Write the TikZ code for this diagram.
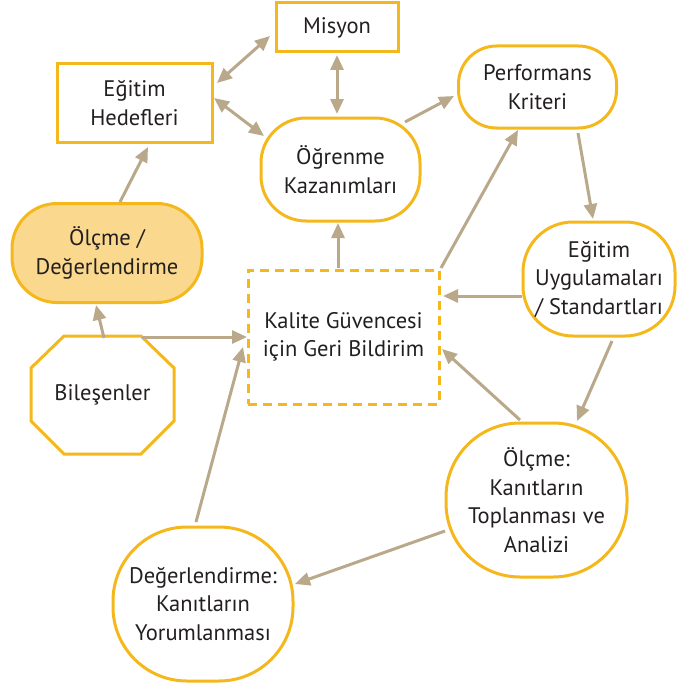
\documentclass[tikz,border=0pt]{standalone}
\usepackage{fontspec}
\setmainfont{PT Sans}
\usetikzlibrary{arrows.meta,calc}
\definecolor{gold}{HTML}{F5B81C}
\definecolor{lightgold}{HTML}{FAD98E}
\definecolor{tan}{HTML}{B9A98A}
\definecolor{ink}{HTML}{231F20}
\tikzset{
  box/.style={draw=gold,line width=3pt,inner sep=0pt,align=center,text=ink,
    font=\fontsize{22.5}{28.5}\selectfont},
  roundbox/.style={box,rounded corners=#1},
  arr/.style={draw=tan,line width=3pt,-{Triangle[length=15pt,width=13pt]}},
  darr/.style={draw=tan,line width=3pt,{Triangle[length=15pt,width=13pt]}-{Triangle[length=15pt,width=13pt]}},
}
\newcommand{\off}[3]{([shift={(#2,#3)}]#1.center)}
\begin{document}
\begin{tikzpicture}[x=1pt,y=-1pt]
\useasboundingbox (0,0) rectangle (677,685);
% nodes
\node[box,minimum width=122pt,minimum height=49pt] (mis) at (337,27.5) {Misyon};
\node[box,minimum width=155pt,minimum height=78pt] (edh) at (134.5,103) {Eğitim\\Hedefleri};
\node[roundbox=45pt,minimum width=159pt,minimum height=103pt] (ogr) at (340.5,169.5) {Öğrenme\\Kazanımları};
\node[roundbox=38pt,minimum width=158pt,minimum height=82pt] (per) at (537.5,87) {Performans\\Kriteri};
\node[roundbox=50pt,minimum width=152pt,minimum height=114pt] (euy) at (599,279) {Eğitim\\Uygulamaları\\/ Standartları};
\node[roundbox=45pt,fill=lightgold,minimum width=190pt,minimum height=99pt] (olc) at (107,253) {Ölçme /\\Değerlendirme};
\node[box,dashed,dash pattern=on 9pt off 6pt,minimum width=191pt,minimum height=134pt] (kal) at (343.5,337) {Kalite Güvencesi\\için Geri Bildirim};
\node[roundbox=74pt,minimum width=181pt,minimum height=154pt] (olk) at (536.5,500) {Ölçme:\\Kanıtların\\Toplanması ve\\Analizi};
\node[roundbox=74pt,minimum width=180pt,minimum height=154pt] (deg) at (203,604) {Değerlendirme:\\Kanıtların\\Yorumlanması};
\node[box,draw=none,minimum width=143pt,minimum height=118pt] (bil) at (102.5,395) {Bileşenler};
\draw[draw=gold,line width=3pt]
  \off{bil}{-38.5}{-59} -- \off{bil}{38.5}{-59} -- \off{bil}{71.5}{-27} -- \off{bil}{71.5}{26}
  -- \off{bil}{38.5}{59} -- \off{bil}{-38.5}{59} -- \off{bil}{-71.5}{26} -- \off{bil}{-71.5}{-27} -- cycle;
% connectors
\draw[darr] \off{mis}{-67}{8.5} -- \off{edh}{82.5}{-20};
\draw[darr] \off{edh}{79.5}{-5} -- \off{ogr}{-76.5}{-33.5};
\draw[darr] \off{mis}{0}{27.5} -- \off{ogr}{-3.5}{-55.5};
\draw[arr] \off{ogr}{64.5}{-47.5} -- \off{per}{-83.5}{9};
\draw[arr] \off{per}{40.5}{46} -- \off{euy}{-6}{-60};
\draw[arr] \off{euy}{-77}{17} -- \off{kal}{99.5}{-41};
\draw[arr] \off{euy}{13}{62} -- \off{olk}{40.5}{-79};
\draw[arr] \off{olk}{-16.5}{-80} -- \off{kal}{98.5}{12};
\draw[arr] \off{kal}{-5.5}{-69} -- \off{ogr}{-2.5}{53.5};
\draw[arr] \off{kal}{97.5}{-69} -- \off{per}{-19.5}{43};
\draw[arr] \off{bil}{1.5}{-57} -- \off{olc}{-11}{52};
\draw[arr] \off{bil}{39.5}{-58} -- \off{kal}{-96.5}{0};
\draw[arr] \off{deg}{-7}{-82} -- \off{kal}{-100.5}{10};
\draw[arr] \off{olc}{13}{-51} -- \off{edh}{13.5}{44};
\draw[arr] \off{olk}{-91.5}{31} -- \off{deg}{92}{-20};
\end{tikzpicture}
\end{document}
